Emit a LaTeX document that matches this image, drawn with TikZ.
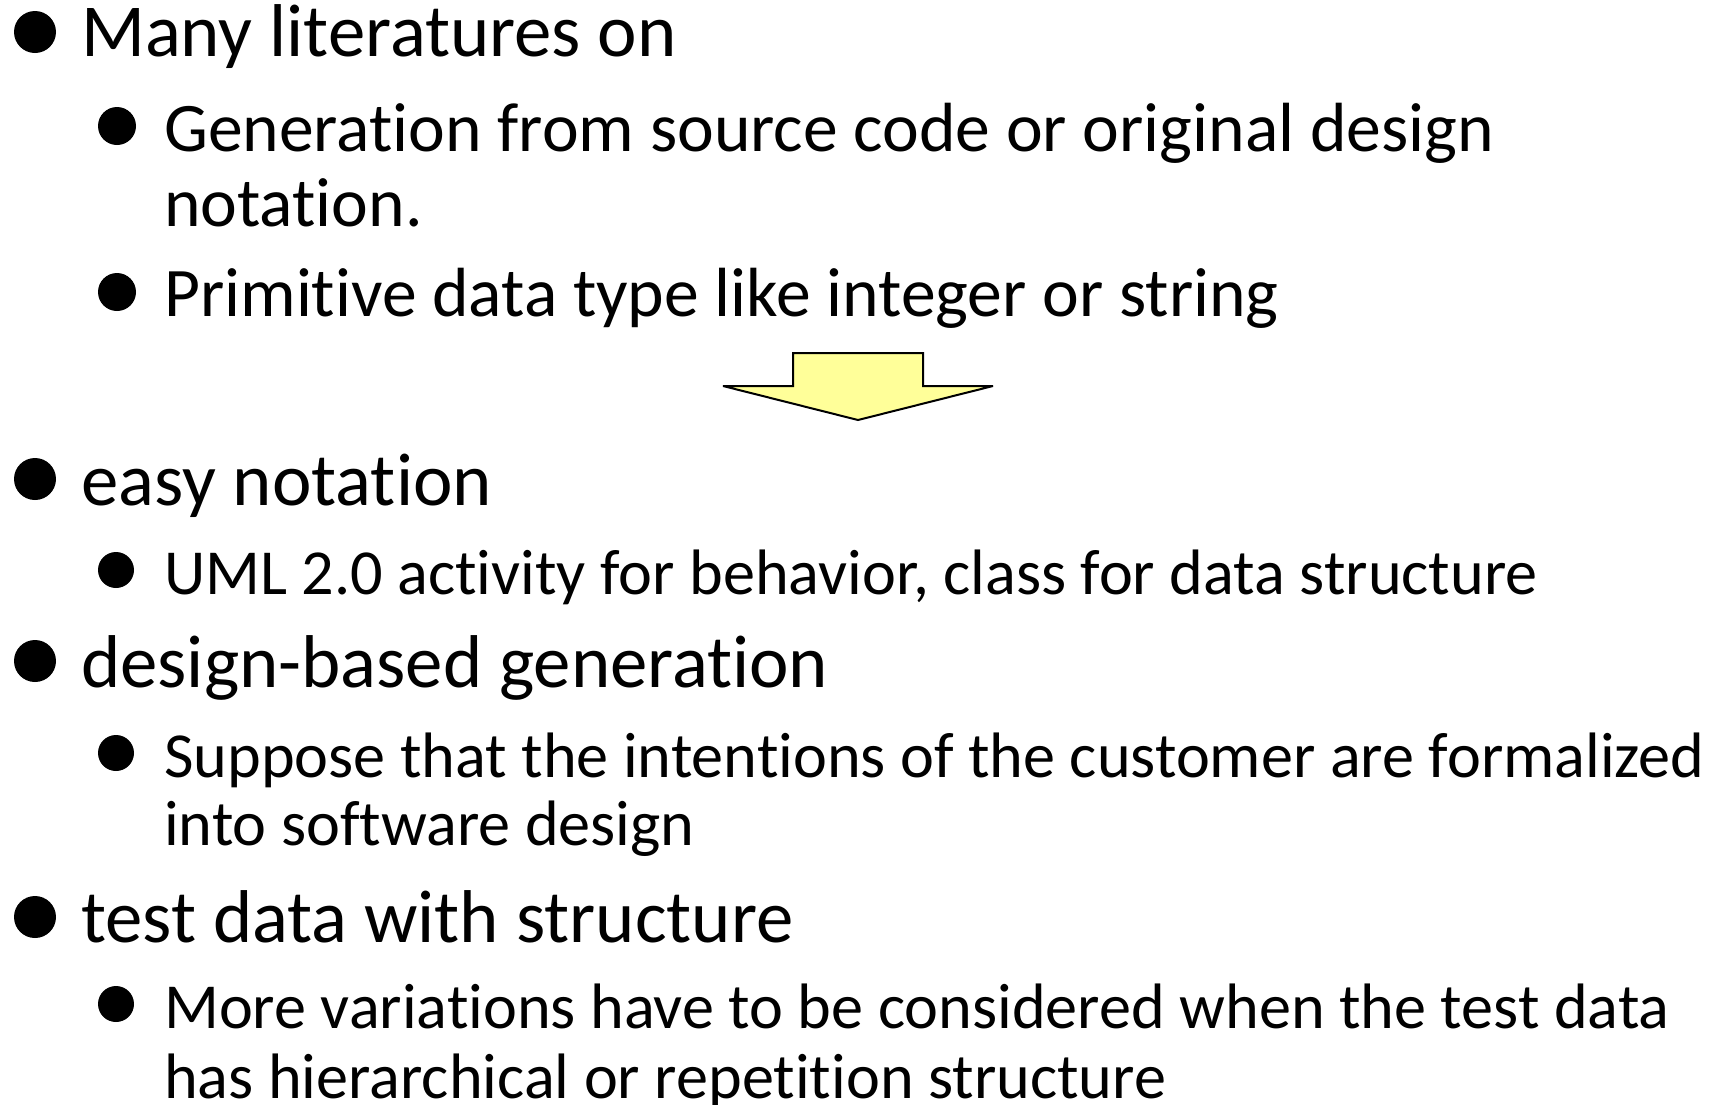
\documentclass[tikz,border=0pt]{standalone}
\usepackage{fontspec}
\setmainfont{Carlito}[RawFeature=-liga]
\begin{document}
\begin{tikzpicture}[x=1pt,y=-1pt,
  lone/.style={anchor=base west, inner sep=0pt, font=\fontsize{74.8}{80}\selectfont},
  ltwo/.style={anchor=base west, inner sep=0pt, font=\fontsize{69.6}{74}\selectfont},
  lthree/.style={anchor=base west, inner sep=0pt, font=\fontsize{64.2}{70}\selectfont},
  bone/.style={circle, fill=black, inner sep=0pt, minimum size=42pt},
  btwo/.style={circle, fill=black, inner sep=0pt, minimum size=38pt},
  bthree/.style={circle, fill=black, inner sep=0pt, minimum size=36pt},
  bigarrow/.style={draw=black, line width=2pt, fill=arrowyellow, line join=miter, miter limit=2}]
\definecolor{arrowyellow}{HTML}{FFFF99}
\useasboundingbox[fill=white] (0,0) rectangle (1720,1104);

% first block: earlier work
\node[bone] (b1) at (35,32) {};
\node[lone] (t1) at (81,56) {Many literatures on};
\node[btwo] (b11) at (117,126) {};
\node[ltwo] (t11a) at (164,151) {Generation from source code or original design};
\node[ltwo] (t11b) at (164,226) {notation.};
\node[btwo] (b12) at (117,292) {};
\node[ltwo] (t12) at (164,316) {Primitive data type like integer or string};

% block arrow
\draw[bigarrow] (793,353) -- (923,353) -- (923,386) -- (993,386) -- (858,420)
  -- (723,386) -- (793,386) -- cycle;

% second block: this approach
\node[bone] (b2) at (35,479) {};
\node[lone] (t2) at (81,505) {easy notation};
\node[bthree] (b21) at (116,570) {};
\node[lthree] (t21) at (164,594) {UML 2.0 activity for behavior, class for data structure};

\node[bone] (b3) at (35,661) {};
\node[lone] (t3) at (81,687) {design-based generation};
\node[bthree] (b31) at (116,753) {};
\node[lthree] (t31a) at (164,777) {Suppose that the intentions of the customer are formalized};
\node[lthree] (t31b) at (164,845) {into software design};

\node[bone] (b4) at (35,917) {};
\node[lone] (t4) at (81,942) {test data with structure};
\node[bthree] (b41) at (116,1004) {};
\node[lthree] (t41a) at (164,1028) {More variations have to be considered when the test data};
\node[lthree] (t41b) at (164,1098) {has hierarchical or repetition structure};
\end{tikzpicture}
\end{document}
